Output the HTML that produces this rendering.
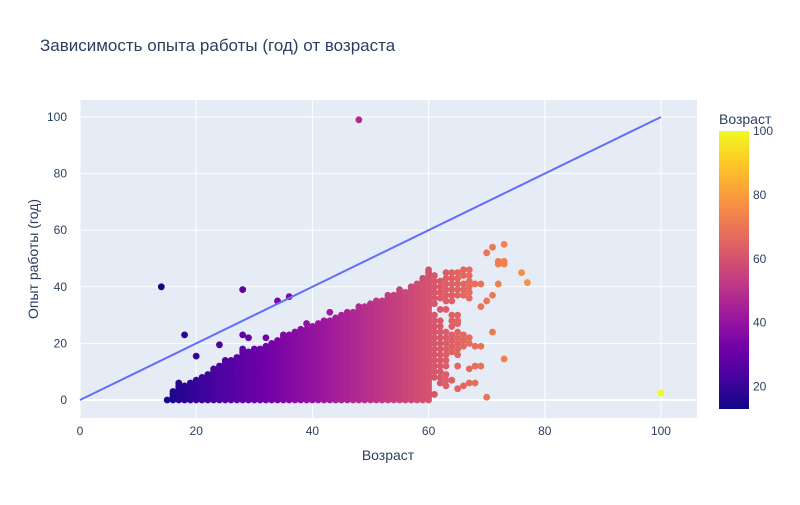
<!DOCTYPE html>
<html><head><meta charset="utf-8"><style>
body{margin:0;background:#fff;font-family:"Liberation Sans",sans-serif}
svg text{font-family:"Liberation Sans",sans-serif;fill:#2a3f5f}
</style></head><body>
<svg id="chart" width="800" height="500">
<defs><linearGradient id="plasma" x1="0" y1="1" x2="0" y2="0">
<stop offset="0" stop-color="#0d0887"/><stop offset="0.111" stop-color="#46039f"/><stop offset="0.222" stop-color="#7201a8"/><stop offset="0.333" stop-color="#9c179e"/><stop offset="0.444" stop-color="#bd3786"/><stop offset="0.556" stop-color="#d8576b"/><stop offset="0.667" stop-color="#ed7953"/><stop offset="0.778" stop-color="#fb9f3a"/><stop offset="0.889" stop-color="#fdca26"/><stop offset="1" stop-color="#f0f921"/></linearGradient></defs>
<text x="40" y="51" font-size="17">Зависимость опыта работы (год) от возраста</text>
<rect x="80" y="100" width="617" height="318" fill="#e5ecf6"/>
<g id="grid"></g><g id="marks"></g><g id="axes"></g>
<text x="388" y="460" font-size="14" text-anchor="middle">Возраст</text>
<text transform="translate(38,259) rotate(-90)" font-size="14" text-anchor="middle">Опыт работы (год)</text>
<text x="719" y="124" font-size="14">Возраст</text>
<rect x="719" y="131" width="30" height="278" fill="url(#plasma)"/>
<g id="cbticks"></g>
</svg>
<script>
const xTicks=[0,20,40,60,80,100];
const yTicks=[0,20,40,60,80,100];
const cbTicks=[20,40,60,80,100];
// dense columns: age and max experience (points at every integer 0..max)
const denseAges=[15,16,17,18,19,20,21,22,23,24,25,26,27,28,29,30,31,32,33,34,35,36,37,38,39,40,41,42,43,44,45,46,47,48,49,50,51,52,53,54,55,56,57,58,59,60];
const denseMax=[0,3,6,5,6,7,8,9,11,12,14,14,15,17,17,18,18,19,20,21,22,23,24,25,25,26,27,28,28,29,30,31,31,33,33,34,35,35,37,37,39,38,40,41,43,46];
// sparse points
const sparseAge=[61,61,61,61,61,61,61,61,61,61,61,61,61,61,61,61,61,61,61,
62,62,62,62,62,62,62,62,62,62,62,62,62,62,62,62,62,
63,63,63,63,63,63,63,63,63,63,63,63,63,63,63,63,63,
64,64,64,64,64,64,64,64,64,64,64,64,64,64,
65,65,65,65,65,65,65,65,65,65,65,65,65,65,65,
66,66,66,66,66,66,66,66,66,
67,67,67,67,67,67,67,67,67,67,
68,68,68,68,69,69,69,69,70,70,70,71,71,71,72,72,72,73,73,73,73,76,77,
14,18,20,24,28,28,29,28,32,35,39,43,34,36,48,100];
const sparseExp=[44,42,40,38,36,34,30,28,26,24,22,20,18,16,14,12,10,8,2,
42,40,38,36,32,28,26,24,22,20,18,16,14,12,10,8,6,
45,43,41,39,37,35,32,24,22,20,18,16,14,12,9,7,5,
45,43,41,39,37,35,30,28,26,23,21,19,17,7,
45,43,41,39,37,30,28,27,24,22,20,18,16,12,4,
46,44,41,39,37,23,21,19,5,
46,44,42,40,38,36,22,20,11,6,
41,19,12,6,41,33,19,12,52,35,1,54,37,24,49,48,41,55,49,48,14.5,45,41.5,
40,23,15.5,19.5,39,23,22,18,22,23,27,31,35,36.5,99,2.5];
const lineX=[0,100], lineY=[0,100];

const X0=80,X1=697,XMIN=0,XMAX=106.2,YT=100,YB=418,YMIN=-6.36,YMAX=106;
const sx=v=>X0+(v-XMIN)/(XMAX-XMIN)*(X1-X0);
const sy=v=>YB-(v-YMIN)/(YMAX-YMIN)*(YB-YT);
const CMIN=13,CMAX=100;
const cbY=v=>409-(v-CMIN)/(CMAX-CMIN)*278;
const stops=["#0d0887","#46039f","#7201a8","#9c179e","#bd3786","#d8576b","#ed7953","#fb9f3a","#fdca26","#f0f921"].map(h=>[parseInt(h.slice(1,3),16),parseInt(h.slice(3,5),16),parseInt(h.slice(5,7),16)]);
function col(v){let t=Math.max(0,Math.min(1,(v-CMIN)/(CMAX-CMIN)))*(stops.length-1);let i=Math.min(Math.floor(t),stops.length-2),f=t-i;const a=stops[i],b=stops[i+1];return `rgb(${a.map((c,k)=>Math.round(c+(b[k]-c)*f)).join(',')})`;}
const NS="http://www.w3.org/2000/svg";
function mk(tag,attrs,parent){const e=document.createElementNS(NS,tag);for(const k in attrs)e.setAttribute(k,attrs[k]);parent.appendChild(e);return e;}
const grid=document.getElementById('grid'),marks=document.getElementById('marks'),axes=document.getElementById('axes'),cbt=document.getElementById('cbticks');
xTicks.forEach(t=>{const l=mk('line',{x1:sx(t),x2:sx(t),y1:YT,y2:YB,stroke:'#fff','stroke-width':1},grid);


const tx=mk('text',{x:sx(t),y:YB+17,'font-size':12,'text-anchor':'middle'},axes);tx.textContent=t;

});
yTicks.forEach(t=>{const l=mk('line',{x1:X0,x2:X1,y1:sy(t),y2:sy(t),stroke:'#fff','stroke-width':t===0?2:1},grid);


const tx=mk('text',{x:X0-13,y:sy(t)+4,'font-size':12,'text-anchor':'end'},axes);tx.textContent=t;

});
cbTicks.forEach(t=>{const tx=mk('text',{x:753,y:cbY(t)+4,'font-size':12},cbt);tx.textContent=t;

});
function dot(a,e){const c=mk('circle',{cx:sx(a),cy:sy(e),r:3.4,fill:col(a)},marks);

}
denseAges.forEach((a,i)=>{for(let e=0;e<=denseMax[i];e++)dot(a,e);});
sparseAge.forEach((a,i)=>dot(a,sparseExp[i]));
const ln=mk('line',{x1:sx(lineX[0]),y1:sy(lineY[0]),x2:sx(lineX[1]),y2:sy(lineY[1]),stroke:'#636efa','stroke-width':2},marks);


</script>
</body></html>
